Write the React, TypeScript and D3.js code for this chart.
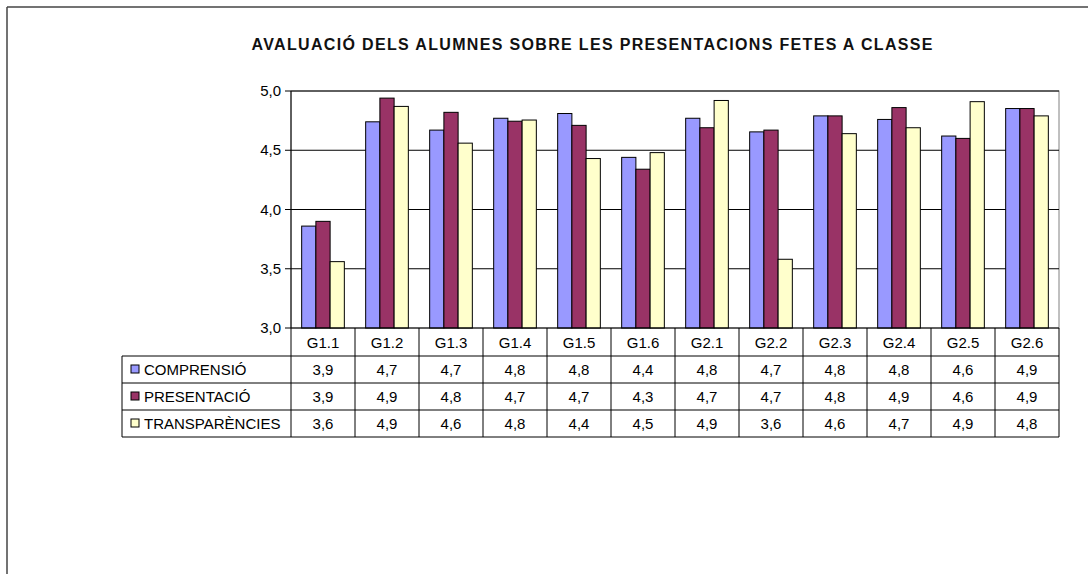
import * as d3 from 'd3';

const title = 'AVALUACIÓ DELS ALUMNES SOBRE LES PRESENTACIONS FETES A CLASSE';
const groups = ['G1.1', 'G1.2', 'G1.3', 'G1.4', 'G1.5', 'G1.6', 'G2.1', 'G2.2', 'G2.3', 'G2.4', 'G2.5', 'G2.6'];
const seriesNames = ['COMPRENSIÓ', 'PRESENTACIÓ', 'TRANSPARÈNCIES'];
const seriesColors = ['#9999FF', '#993366', '#FFFFCC'];

const comprensio = [3.86, 4.74, 4.67, 4.77, 4.81, 4.44, 4.77, 4.655, 4.79, 4.76, 4.62, 4.852];
const presentacio = [3.9, 4.94, 4.82, 4.745, 4.71, 4.34, 4.69, 4.67, 4.79, 4.86, 4.6, 4.852];
const transparencies = [3.56, 4.87, 4.56, 4.755, 4.43, 4.48, 4.92, 3.58, 4.64, 4.69, 4.91, 4.79];
const yTicks = [3.0, 3.5, 4.0, 4.5, 5.0];

const series = [comprensio, presentacio, transparencies];

export default function App() {
  const width = 1088,
    height = 574;
  const plotLeft = 291,
    plotRight = 1059,
    plotTop = 91,
    plotBottom = 328;
  const tableLeft = 122;
  const headerBottom = 356;
  const rowH = 27;

  const x = d3.scaleBand().domain(groups).range([plotLeft, plotRight]).paddingInner(0).paddingOuter(0);
  // 150% gap like the Excel default
  const inner = d3
    .scaleBand()
    .domain(seriesNames)
    .range([0, x.bandwidth()])
    .paddingOuter(0.75)
    .paddingInner(0);
  const y = d3.scaleLinear().domain([3, 5]).range([plotBottom, plotTop]);
  const fmt = (v) => d3.format('.1f')(v).replace('.', ',');

  const font = '"Liberation Sans", Arial, sans-serif';
  const tableBottom = headerBottom + rowH * seriesNames.length;
  const fs = 15;

  return (
    <svg
      width={width}
      height={height}
      style={{ position: 'absolute', left: 0, top: 0, background: '#fff' }}
      fontFamily={font}
    >
      {/* outer frame */}
      <line x1={7} y1={7} x2={width} y2={7} stroke="#444" strokeWidth={1.5} />
      <line x1={7} y1={7} x2={7} y2={height} stroke="#444" strokeWidth={1.5} />

      <text
        x={592}
        y={50}
        textAnchor="middle"
        fontSize={16}
        fontWeight="bold"
        textLength={681}
        lengthAdjust="spacing"
        fill="#111"
      >
        {title}
      </text>

      {/* plot area border */}
      <rect
        x={plotLeft}
        y={plotTop}
        width={plotRight - plotLeft}
        height={plotBottom - plotTop}
        fill="none"
        stroke="#808080"
      />

      {/* gridlines + ticks */}
      {yTicks.map((t) => (
        <g key={t}>
          <line x1={plotLeft - 6} x2={t === 3 ? plotLeft : plotRight} y1={y(t)} y2={y(t)} stroke="#000" />
          <text x={281} y={y(t) + 5} textAnchor="end" fontSize={fs} fill="#000">
            {fmt(t)}
          </text>
        </g>
      ))}

      {/* bars */}
      {series.map((vals, si) =>
        vals.map((v, gi) => (
          <rect
            key={`${si}-${gi}`}
            x={x(groups[gi]) + inner(seriesNames[si])}
            y={y(v)}
            width={inner.bandwidth()}
            height={y(3) - y(v)}
            fill={seriesColors[si]}
            stroke="#000"
            strokeWidth={1}
          />
        ))
      )}

      {/* axis line */}
      <line x1={plotLeft} x2={plotRight} y1={plotBottom} y2={plotBottom} stroke="#000" />
      <line x1={plotLeft} x2={plotLeft} y1={plotTop} y2={tableBottom} stroke="#000" />

      {/* data table */}
      {groups.map((g) => (
        <g key={g}>
          <line
            x1={x(g) + x.bandwidth()}
            x2={x(g) + x.bandwidth()}
            y1={plotBottom}
            y2={tableBottom}
            stroke="#000"
          />
          <text x={x(g) + x.bandwidth() / 2} y={plotBottom + 20} textAnchor="middle" fontSize={fs} fill="#000">
            {g}
          </text>
        </g>
      ))}
      {seriesNames.map((name, si) => {
        const top = headerBottom + rowH * si;
        return (
          <g key={name}>
            <line x1={tableLeft} x2={plotRight} y1={top} y2={top} stroke="#000" />
            <rect x={131} y={top + 9} width={8} height={8} fill={seriesColors[si]} stroke="#000" />
            <text x={144} y={top + 19} fontSize={fs} fill="#000">
              {name}
            </text>
            {series[si].map((v, gi) => (
              <text
                key={gi}
                x={x(groups[gi]) + x.bandwidth() / 2}
                y={top + 19}
                textAnchor="middle"
                fontSize={fs}
                fill="#000"
              >
                {fmt(v)}
              </text>
            ))}
          </g>
        );
      })}
      <line x1={tableLeft} x2={plotRight} y1={tableBottom} y2={tableBottom} stroke="#000" />
      <line x1={tableLeft} x2={tableLeft} y1={headerBottom} y2={tableBottom} stroke="#000" />
    </svg>
  );
}
